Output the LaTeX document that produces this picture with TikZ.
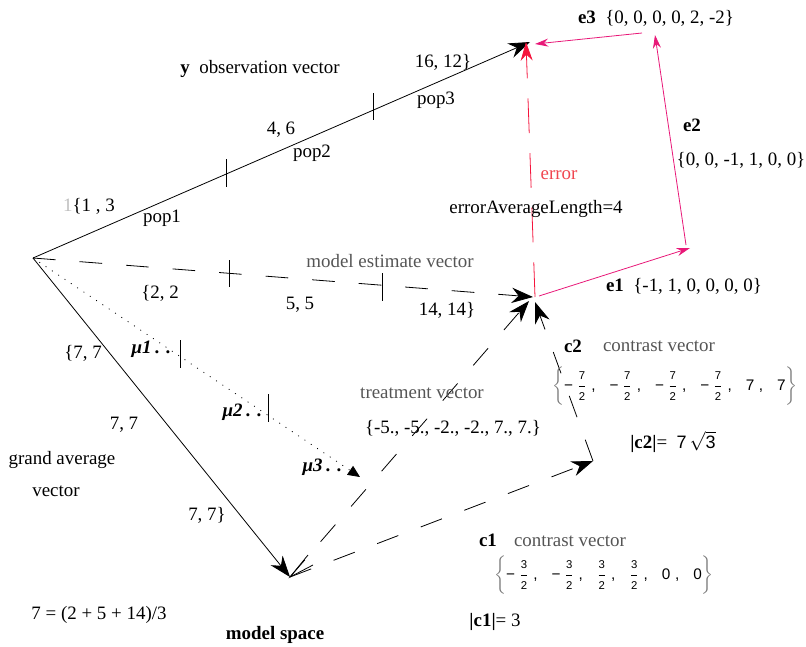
\documentclass[tikz,border=0pt]{standalone}
\usepackage{fontspec}
\usepackage{amsmath}
\setmainfont{Liberation Serif}
\newfontfamily\mfont{Liberation Sans}
\usetikzlibrary{arrows.meta}
\definecolor{pinkv}{RGB}{232,24,120}
\definecolor{errred}{RGB}{245,20,60}
\definecolor{errtxt}{RGB}{240,70,80}
\definecolor{txtgray}{RGB}{85,85,85}
\definecolor{bracegray}{RGB}{120,120,120}
\newcommand\mfr[2]{\dfrac{\text{\fontsize{8.5}{9}\selectfont #1}}{\text{\fontsize{8.5}{9}\selectfont #2}}}
\newcommand\mcm{\hspace{3.5pt}\text{,}\hspace{10.5pt}}
\newcommand\mmin{\text{−}\hspace{3pt}}
\newcommand\mstrut{\vrule height 10pt depth 9.5pt width 0pt}
\begin{document}
\begin{tikzpicture}[x=0.75pt,y=-0.75pt,
  font=\fontsize{14.2}{16}\selectfont,
  txt/.style={inner sep=0pt, anchor=center},
  gtxt/.style={txt, text=txtgray},
  mtxt/.style={inner sep=0pt, anchor=center, font=\mfont\fontsize{11.5}{13}\selectfont},
  tickmark/.style={line width=0.6pt},
  vec/.style={line width=0.6pt, -{Stealth[length=16pt,width=11.5pt]}},
  dvec/.style={vec, dash pattern=on 17pt off 18pt},
  pvec/.style={line width=0.6pt, draw=pinkv, -{Stealth[length=10pt,width=6pt]}},
  evec/.style={line width=0.6pt, draw=errred, dash pattern=on 26pt off 15pt, -{Stealth[length=14pt,width=9pt,fill=errred]}},
  muvec/.style={line width=0.6pt, dash pattern=on 0.7pt off 5pt, -{Triangle[length=9pt,width=8pt]}}]
\useasboundingbox (0,0) rectangle (806,646);

% key points
\coordinate (O) at (33,258);
\coordinate (Y) at (530,42);
\coordinate (M) at (533,297);
\coordinate (Mt) at (529,301);
\coordinate (Mc) at (535,302);
\coordinate (G) at (290,577);
\coordinate (C) at (593,461);
\coordinate (Mu) at (360,477);
\coordinate (E1s) at (539,296);
\coordinate (E1e) at (690,248);
\coordinate (E2s) at (686,245);
\coordinate (E2e) at (655,35);
\coordinate (E3s) at (642,33);
\coordinate (E3e) at (535,44);
\coordinate (Es) at (535,297);
\coordinate (Ee) at (526,42);
\coordinate (Ha) at (308,555);
\coordinate (Hb) at (313,565);

% vectors
\draw[vec] (O) -- (Y);
\draw[dvec] (O) -- (M);
\draw[vec] (O) -- (G);
\draw[muvec] (O) -- (Mu);
\draw[dvec] (G) -- (Mt);
\draw[dvec] (G) -- (C);
\draw[dvec] (C) -- (Mc);
\draw[line width=0.6pt] (Ha) -- (G) -- (Hb);
\draw[evec] (Es) -- (Ee);
\draw[pvec] (E1s) -- (E1e);
\draw[pvec] (E2s) -- (E2e);
\draw[pvec] (E3s) -- (E3e);

% ticks
\draw[tickmark] (226,159) -- (226,187);
\draw[tickmark] (373,93) -- (373,120);
\draw[tickmark] (229,260) -- (229,287);
\draw[tickmark] (382,273) -- (382,301);
\draw[tickmark] (180,340) -- (180,368);
\draw[tickmark] (268,394) -- (268,422);

% labels
\node[txt] (ylab) at (260,69) {\textbf{y}\enspace observation vector};
\node[txt] (l1612) at (443,62) {16, 12\}};
\node[txt] (lpop3) at (436,100) {pop3};
\node[txt] (l46) at (281,130) {4, 6};
\node[txt] (lpop2) at (312,153) {pop2};
\node[txt] (l13) at (89,206) {{\color{lightgray}1}\{1 , 3};
\node[txt] (lpop1) at (162,218) {pop1};
\node[txt, text=errtxt] (lerr) at (559,175) {error};
\node[txt] (lerrav) at (536,209) {errorAverageLength=4};
\node[gtxt] (lmev) at (390,261) {model estimate vector};
\node[txt] (l22) at (160,293) {\{2, 2};
\node[txt] (l55) at (300,305) {5, 5};
\node[txt] (l1414) at (447,310) {14, 14\}};
\node[txt] (le1) at (684,286) {\textbf{e1}\enspace\{-1, 1, 0, 0, 0, 0\}};
\node[txt] (le2) at (692,125) {\textbf{e2}};
\node[txt] (le2v) at (741,160) {\{0, 0, -1, 1, 0, 0\}};
\node[txt] (le3) at (656,18) {\textbf{e3}\enspace\{0, 0, 0, 0, 2, -2\}};
\node[txt] (l77a) at (83,353) {\{7, 7};
\node[txt] (lmu1) at (151,349) {\textbf{\textit{μ1}}\,\textbf{. .}};
\node[txt] (lmu2) at (242,412) {\textbf{\textit{μ2}}\,\textbf{. .}};
\node[txt] (lmu3) at (322,467) {\textbf{\textit{μ3}}\,\textbf{. .}};
\node[txt] (l77b) at (124,425) {7, 7};
\node[txt] (lga) at (62,460) {grand average};
\node[txt] (lgav) at (56,491) {vector};
\node[txt] (l77c) at (207,515) {7, 7\}};
\node[txt] (leq) at (99,615) {7 = (2 + 5 + 14)/3};
\node[txt] (lms) at (275,635) {\textbf{model space}};
\node[gtxt] (ltv) at (422,393) {treatment vector};
\node[txt] (ltvv) at (453,428) {\{-5., -5., -2., -2., 7., 7.\}};
\node[txt] (lc2) at (573,346) {\textbf{c2}};
\node[gtxt] (lc2cv) at (659,346) {contrast vector};
\node[mtxt] (lc2v) at (675,386) {$\color{bracegray}\left\{\mstrut\color{black}\mmin\mfr72\mcm\mmin\mfr72\mcm\mmin\mfr72\mcm\mmin\mfr72\mcm\text{7}\mcm\text{7}\color{bracegray}\right\}$};
\node[txt] (lc2n) at (673,442) {\textbf{|c2|}=\enspace{\mfont\fontsize{13.5}{15}\selectfont 7\,$\sqrt{\text{3}}$}};
\node[txt] (lc1) at (488,540) {\textbf{c1}};
\node[gtxt] (lc1cv) at (570,541) {contrast vector};
\node[mtxt] (lc1v) at (604,575) {$\color{bracegray}\left\{\mstrut\color{black}\mmin\mfr32\mcm\mmin\mfr32\mcm\mfr32\mcm\mfr32\mcm\text{0}\mcm\text{0}\color{bracegray}\right\}$};
\node[txt] (lc1n) at (495,622) {\textbf{|c1|}= 3};
\end{tikzpicture}
\end{document}
